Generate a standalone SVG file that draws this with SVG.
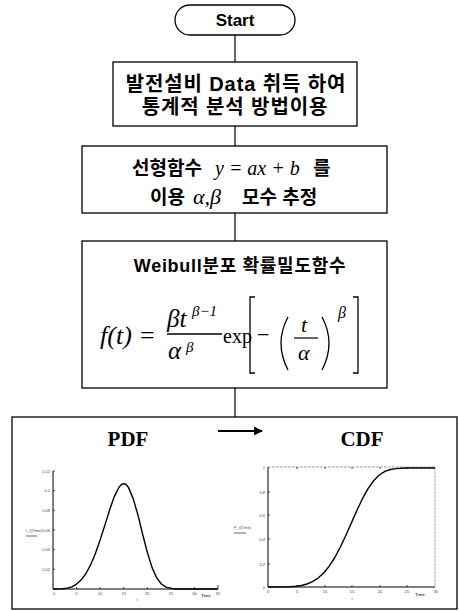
<svg xmlns="http://www.w3.org/2000/svg" width="459" height="611" viewBox="0 0 459 611">
<defs>
<style>
.box{fill:#fff;stroke:#000;stroke-width:1.3}
.conn{stroke:#000;stroke-width:1.2;fill:none}
.kr{font-family:"Liberation Sans","Noto Sans CJK KR",sans-serif;font-weight:bold;fill:#000}
.math{font-family:"Liberation Serif","Times New Roman",serif;font-style:italic;fill:#000}
.rm{font-family:"Liberation Serif","Times New Roman",serif;fill:#000}
.ttl{font-family:"Liberation Serif","Times New Roman",serif;font-weight:bold;font-size:21px;fill:#000}
.delim{stroke:#000;stroke-width:1.3;fill:none}
.axis{stroke:#000;stroke-width:1;fill:none}
.frame{stroke:#777;stroke-width:0.7;fill:none;stroke-dasharray:3 1}
.tick{stroke:#000;stroke-width:0.7}
.tl{font-family:"Liberation Sans",sans-serif;font-size:4px;fill:#444}
.curve{stroke:#000;stroke-width:1.4;fill:none;stroke-linejoin:round}
</style>
<marker id="ah" viewBox="0 0 10 10" refX="9" refY="5" markerWidth="4" markerHeight="4" orient="auto" markerUnits="strokeWidth">
<path d="M0,0 L10,5 L0,10 z" fill="#000"/>
</marker>
</defs>
<rect width="459" height="611" fill="#fff"/>

<g id="connectors">
<line class="conn" x1="235" y1="35" x2="235" y2="62"/>
<line class="conn" x1="235" y1="126" x2="235" y2="146"/>
<line class="conn" x1="235" y1="213" x2="235" y2="241"/>
<line class="conn" x1="235" y1="388" x2="235" y2="417"/>
</g>

<g id="start">
<rect class="box" x="175" y="5" width="120" height="30" rx="15" ry="15"/>
<text x="235" y="26" text-anchor="middle" font-family="Liberation Sans,Arial,sans-serif" font-weight="bold" font-size="17">Start</text>
</g>

<g id="data">
<rect class="box" x="113" y="62" width="244" height="64"/>
<text class="kr" x="236" y="91" font-size="20" letter-spacing="0.9" text-anchor="middle">발전설비 Data 취득 하여</text>
<text class="kr" x="235" y="114" font-size="20" letter-spacing="0.9" text-anchor="middle">통계적 분석 방법이용</text>
</g>

<g id="linear">
<rect class="box" x="82" y="146" width="305" height="67"/>
<text x="132" y="175" font-size="19"><tspan class="kr">선형함수</tspan><tspan class="math" x="215" font-size="20">y = ax + b</tspan><tspan class="kr" x="313">를</tspan></text>
<text x="150" y="204" font-size="19"><tspan class="kr">이용</tspan><tspan class="math" x="193" font-size="22">α,β</tspan><tspan class="kr" x="242">모수 추정</tspan></text>
</g>

<g id="weibull">
<rect class="box" x="82" y="241" width="305" height="147"/>
<text class="kr" x="240" y="272" font-size="18" letter-spacing="0.7" text-anchor="middle">Weibull분포 확률밀도함수</text>
<text class="math" x="100" y="344" font-size="26">f<tspan class="rm">(</tspan>t<tspan class="rm">) =</tspan></text>
<text class="math" x="167" y="327" font-size="25">βt</text>
<text class="math" x="192" y="316" font-size="15">β<tspan class="rm">−1</tspan></text>
<line x1="167" y1="334" x2="222" y2="334" stroke="#000" stroke-width="1.3"/>
<text class="math" x="168" y="359" font-size="25">α</text>
<text class="math" x="186" y="352" font-size="15">β</text>
<text class="rm" x="223" y="343" font-size="20">exp</text>
<path class="delim" d="M255,297 H250 V373 H255"/>
<text class="rm" x="257" y="342" font-size="22">−</text>
<path class="delim" d="M288,317 Q274,343 288,370"/>
<text class="math" x="301" y="332" font-size="22">t</text>
<line x1="294" y1="338" x2="318" y2="338" stroke="#000" stroke-width="1.2"/>
<text class="math" x="298" y="360" font-size="22">α</text>
<path class="delim" d="M322,317 Q336,343 322,370"/>
<text class="math" x="338" y="318" font-size="16">β</text>
<path class="delim" d="M353,297 H358 V373 H353"/>
</g>

<g id="charts">
<rect class="box" x="12" y="417" width="445" height="192"/>
<text class="ttl" x="128" y="446" text-anchor="middle">PDF</text>
<line x1="218" y1="431" x2="262" y2="431" stroke="#000" stroke-width="2.2" marker-end="url(#ah)"/>
<text class="ttl" x="362" y="446" text-anchor="middle">CDF</text>

<g id="pdf-plot">
<line class="axis" x1="53" y1="471" x2="53" y2="589"/>
<line class="axis" x1="53" y1="589" x2="218" y2="589"/>
<g class="tick">
<line x1="53" y1="471" x2="55" y2="471"/><line x1="53" y1="490.7" x2="55" y2="490.7"/><line x1="53" y1="510.3" x2="55" y2="510.3"/><line x1="53" y1="530" x2="55" y2="530"/><line x1="53" y1="549.7" x2="55" y2="549.7"/><line x1="53" y1="569.3" x2="55" y2="569.3"/>
<line x1="76.6" y1="589" x2="76.6" y2="587"/><line x1="100.1" y1="589" x2="100.1" y2="587"/><line x1="123.7" y1="589" x2="123.7" y2="587"/><line x1="147.3" y1="589" x2="147.3" y2="587"/><line x1="170.9" y1="589" x2="170.9" y2="587"/><line x1="194.4" y1="589" x2="194.4" y2="587"/><line x1="218" y1="589" x2="218" y2="585"/>
</g>
<g class="tl" text-anchor="end">
<text x="50" y="472.5">0.12</text><text x="50" y="492">0.1</text><text x="50" y="511.5">0.08</text><text x="50" y="531.5">0.06</text><text x="50" y="551">0.04</text><text x="50" y="570.5">0.02</text>
</g>
<g class="tl" text-anchor="middle">
<text x="54" y="595">0</text><text x="76.6" y="595">5</text><text x="100.1" y="595">10</text><text x="123.7" y="595">15</text><text x="147.3" y="595">20</text><text x="170.9" y="595">25</text><text x="194.4" y="595">30</text><text x="218" y="595">35</text>
<text x="206" y="597" font-weight="bold">Time</text>
<text x="137" y="601">t</text>
</g>
<text class="tl" x="26" y="532">f_t(Time)</text>
<line x1="26" y1="536" x2="37" y2="536" stroke="#000" stroke-width="0.6"/>
<polyline class="curve" points="53,589 62.4,588.8 67.1,588.2 71.9,586.8 76.6,584.1 81.3,579.8 86,573.5 90.7,564.7 95.4,553.5 100.1,540 104.9,525.1 109.6,510 114.3,496.6 119,487.2 121.4,484.5 123.7,483.6 126.1,484.5 128.4,487.4 133.1,498.4 137.9,514.9 142.6,534 147.3,552.2 152,567.4 156.7,577.8 161.4,584 166.1,587.1 170.9,588.4 175.6,589 218,589"/>
</g>

<g id="cdf-plot">
<line class="frame" x1="268" y1="467" x2="435" y2="467"/>
<line class="frame" x1="435" y1="467" x2="435" y2="587"/>
<line class="axis" x1="268" y1="467" x2="268" y2="587"/>
<line class="axis" x1="268" y1="587" x2="435" y2="587"/>
<g class="tick">
<line x1="268" y1="492" x2="270" y2="492"/><line x1="268" y1="515" x2="270" y2="515"/><line x1="268" y1="539" x2="270" y2="539"/><line x1="268" y1="564" x2="270" y2="564"/>
<line x1="297" y1="587" x2="297" y2="585"/><line x1="325" y1="587" x2="325" y2="585"/><line x1="352" y1="587" x2="352" y2="585"/><line x1="380" y1="587" x2="380" y2="585"/><line x1="407" y1="587" x2="407" y2="585"/>
<line x1="297" y1="467" x2="297" y2="469"/><line x1="325" y1="467" x2="325" y2="469"/><line x1="352" y1="467" x2="352" y2="469"/><line x1="380" y1="467" x2="380" y2="469"/><line x1="407" y1="467" x2="407" y2="469"/>
</g>
<g class="tl" text-anchor="end">
<text x="265" y="469">1</text><text x="265" y="493.5">0.8</text><text x="265" y="516.5">0.6</text><text x="265" y="540.5">0.4</text><text x="265" y="565.5">0.2</text><text x="265" y="588.5">0</text>
</g>
<g class="tl" text-anchor="middle">
<text x="268" y="593">0</text><text x="297" y="593">5</text><text x="325" y="593">10</text><text x="352" y="593">15</text><text x="380" y="593">20</text><text x="407" y="593">25</text><text x="436" y="593">30</text>
<text x="420" y="596" font-weight="bold">Time</text>
<text x="352" y="600">t</text>
</g>
<text class="tl" x="234" y="529">F_t(Time)</text>
<line x1="234" y1="533" x2="246" y2="533" stroke="#000" stroke-width="0.6"/>
<polyline class="curve" points="268,587 290.3,586.8 295.8,586.3 301.4,585.5 307,584 312.5,581.6 318.1,578.1 323.7,573 329.2,566.2 334.8,557.5 340.4,547 345.9,535.2 351.5,522.6 357.1,510 362.6,498.3 368.2,488.3 373.8,480.5 379.3,475 384.9,471.4 390.5,469.5 396,468.6 401.6,468.2 407,468 435,468"/>
</g>
</g>
</svg>
